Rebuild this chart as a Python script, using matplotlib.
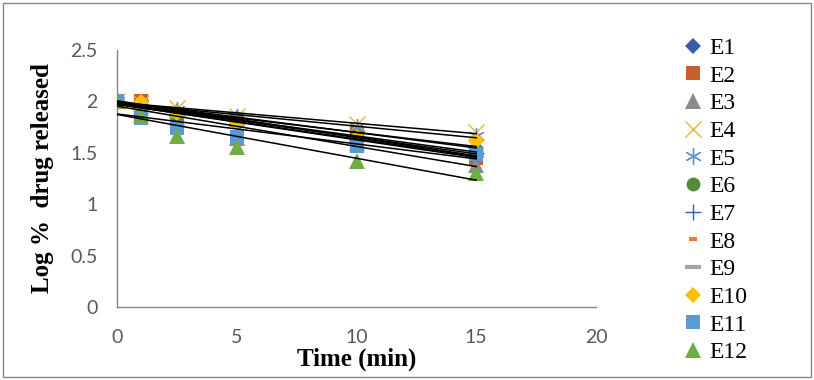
import numpy as np
import matplotlib
matplotlib.use("Agg")
import matplotlib.pyplot as plt
from matplotlib.patches import Rectangle

# sampling times (min)
time_min = [0, 1, 2.5, 5, 10, 15]

# log % drug released for each formulation
E1 = [2.00, 1.99, 1.90, 1.84, 1.70, 1.55]
E2 = [2.00, 2.00, 1.88, 1.82, 1.69, 1.45]
E3 = [2.00, 1.95, 1.84, 1.64, 1.60, 1.38]
E4 = [2.00, 1.98, 1.94, 1.86, 1.78, 1.70]
E5 = [2.00, 1.97, 1.92, 1.85, 1.75, 1.66]
E6 = [2.00, 1.96, 1.88, 1.80, 1.66, 1.52]
E7 = [2.00, 1.96, 1.87, 1.80, 1.65, 1.50]
E8 = [2.00, 1.95, 1.86, 1.78, 1.63, 1.48]
E9 = [2.00, 1.95, 1.86, 1.77, 1.62, 1.47]
E10 = [2.00, 1.99, 1.89, 1.79, 1.65, 1.61]
E11 = [2.00, 1.84, 1.74, 1.65, 1.57, 1.49]
E12 = [2.00, 1.87, 1.66, 1.56, 1.42, 1.30]

names = ["E1", "E2", "E3", "E4", "E5", "E6", "E7", "E8", "E9", "E10", "E11", "E12"]
series = [E1, E2, E3, E4, E5, E6, E7, E8, E9, E10, E11, E12]

x_ticks = [0, 5, 10, 15, 20]
y_ticks = [0, 0.5, 1, 1.5, 2, 2.5]

# marker styles: (marker, size, color, edge width)
styles = [
    ("D", 8, "#3A5DA8", 0),
    ("s", 10, "#C5602A", 0),
    ("^", 11, "#8C8C8C", 0),
    ("x", 11, "#E8B53A", 1.0),
    ((6, 2, 0), 12, "#6A94C8", 1.0),
    ("o", 10, "#548B3A", 0),
    ("+", 12, "#3A5DA8", 1.0),
    ("_", 6, "#ED7D31", 3.0),
    ("_", 11, "#A5A5A5", 3.0),
    ("D", 8, "#FFC000", 0),
    ("s", 10, "#5B9BD5", 0),
    ("^", 11, "#70AD47", 0),
]

fig = plt.figure(figsize=(8.14, 3.8), dpi=100)
ax = fig.add_axes([117 / 814, 1 - 307 / 380, (596 - 117) / 814, (307 - 50) / 380])

t = np.array(time_min)
handles = []
for name, y, (mk, ms, col, lw) in zip(names, series, styles):
    h, = ax.plot(t, y, linestyle="none", marker=mk, markersize=ms,
                 color=col, markeredgewidth=lw, label=name, zorder=3)
    handles.append(h)

# linear trendline for every series, drawn over the markers
for y in series:
    k, b = np.polyfit(t, y, 1)
    ax.plot([t[0], t[-1]], [k * t[0] + b, k * t[-1] + b], color="black",
            linewidth=1.1, zorder=4)

ax.set_xlim(0, 20)
ax.set_ylim(0, 2.5)
ax.set_xticks(x_ticks)
ax.set_yticks(y_ticks)
ax.set_xticklabels([str(v) for v in x_ticks])
ax.set_yticklabels([f"{v:g}" for v in y_ticks])
ax.tick_params(length=0, labelsize=14, colors="#595959")
ax.tick_params(axis="x", pad=16)
ax.tick_params(axis="y", pad=14)
for lab in ax.get_xticklabels() + ax.get_yticklabels():
    lab.set_fontfamily("Lato")

for side in ["top", "right"]:
    ax.spines[side].set_visible(False)
for side in ["left", "bottom"]:
    ax.spines[side].set_color("#868686")
    ax.spines[side].set_linewidth(1.0)

ax.set_xlabel("Time (min)", fontfamily="Liberation Serif", fontweight="bold",
              fontsize=18, labelpad=1)
ax.set_ylabel("Log %  drug released", fontfamily="Liberation Serif",
              fontweight="bold", fontsize=18, labelpad=12)

fig.legend(handles=handles, loc="upper left", bbox_to_anchor=(672 / 814, 1 - 28 / 380),
           frameon=False, prop={"family": "Liberation Serif", "size": 17},
           labelspacing=0.26, handlelength=1.0, handletextpad=0.2, borderaxespad=0)

fig.patches.append(Rectangle((0.004, 0.008), 0.992, 0.984, transform=fig.transFigure,
                             fill=False, edgecolor="#868686", linewidth=1.0))

fig.savefig("out.png", dpi=100)
